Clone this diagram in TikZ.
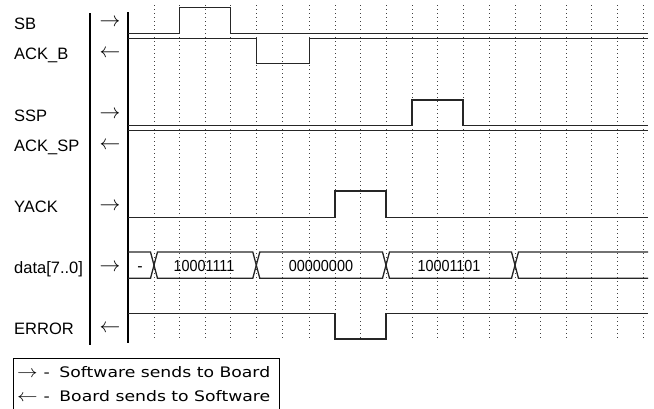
\documentclass[tikz,border=0pt]{standalone}
\usepackage{fontspec}
\setmainfont{Liberation Sans}
\newfontfamily\legendfont{DejaVu Sans}
\usepackage{graphicx}
\begin{document}
\begin{tikzpicture}[x=1pt,y=-1pt,line join=miter,
  gridline/.style={black!75,line width=0.9pt,dash pattern=on 1pt off 3pt},
  wave/.style={black!85,line width=1.3pt},
  frame/.style={black,line width=1.2pt},
  signame/.style={anchor=base west,inner sep=0pt,font=\fontsize{16.5}{16.5}\selectfont},
  dirmark/.style={anchor=center,inner sep=0pt,font=\fontsize{21}{21}\selectfont},
  busval/.style={anchor=base,inner sep=0pt,font=\fontsize{16}{16}\selectfont},
  legendline/.style={anchor=base west,inner sep=0pt,font=\legendfont\fontsize{14.5}{14.5}\selectfont}]
\useasboundingbox (0,0) rectangle (654,408);

% time grid
\foreach \t in {154,179.5,205,230.7,256.3,282,309.5,335,360.7,386,412,437.3,463,489.5,515,540.7,566,591.7,617.3,643}
  \draw[gridline] (\t,5) -- (\t,339);

% separators between names, directions and waveforms
\draw[frame] (90,13) -- (90,345);
\draw[frame] (128,12) -- (128,343);

% signal names
\node[signame] (nSB)    at (14,29.0)  {SB};
\node[signame] (nACKB)  at (14,59.7)  {ACK\_B};
\node[signame] (nSSP)   at (14,121.2) {SSP};
\node[signame] (nACKSP) at (14,151.7) {ACK\_SP};
\node[signame] (nYACK)  at (14,212.7) {YACK};
\node[signame] (nDATA)  at (14,273.7) {data[7..0]};
\node[signame] (nERR)   at (14,334.7) {ERROR};

% directions
\node[dirmark] (dSB)    at (110,22.5)  {$\rightarrow$};
\node[dirmark] (dACKB)  at (110,53.2)  {$\leftarrow$};
\node[dirmark] (dSSP)   at (110,114.7) {$\rightarrow$};
\node[dirmark] (dACKSP) at (110,145.2) {$\leftarrow$};
\node[dirmark] (dYACK)  at (110,206.2) {$\rightarrow$};
\node[dirmark] (dDATA)  at (110,267.2) {$\rightarrow$};
\node[dirmark] (dERR)   at (110,328.2) {$\leftarrow$};

% waveforms
\draw[wave] (128,33.3) -- (179.5,33.3) -- (179.5,7.7) -- (230.7,7.7) -- (230.7,33.3) -- (648,33.3);
\draw[wave] (128,38.7) -- (256.3,38.7) -- (256.3,63.7) -- (309.5,63.7) -- (309.5,38.7) -- (648,38.7);
\draw[wave] (128,125.3) -- (412,125.3) -- (412,100) -- (463,100) -- (463,125.3) -- (648,125.3);
\draw[wave] (128,130.7) -- (648,130.7);
\draw[wave] (128,217.3) -- (335,217.3) -- (335,191) -- (386,191) -- (386,217.3) -- (648,217.3);
\draw[wave] (128,313.3) -- (335,313.3) -- (335,339) -- (386,339) -- (386,313.3) -- (648,313.3);

% data bus
\draw[wave] (128,252) -- (150.5,252) -- (157.5,278.3) -- (252.8,278.3) -- (259.8,252)
  -- (382.5,252) -- (389.5,278.3) -- (511.5,278.3) -- (518.5,252) -- (648,252);
\draw[wave] (128,278.3) -- (150.5,278.3) -- (157.5,252) -- (252.8,252) -- (259.8,278.3)
  -- (382.5,278.3) -- (389.5,252) -- (511.5,252) -- (518.5,278.3) -- (648,278.3);
\node[busval] (v0) at (140,271.5) {-};
\node[busval] (v1) at (204,271.5) {\scalebox{0.9}[1]{10001111}};
\node[busval] (v2) at (321,271.5) {\scalebox{0.9}[1]{00000000}};
\node[busval] (v3) at (449,271.5) {\scalebox{0.9}[1]{10001101}};

% legend
\draw[black,line width=1pt] (13,412) -- (13,358) -- (279,358) -- (279,412);
\node[legendline] (l1) at (17,377) {\resizebox{253pt}{\height}{{\fontsize{19}{19}\selectfont$\rightarrow$}\hspace{5pt}-\hspace{8pt}Software sends to Board}};
\node[legendline] (l2) at (17,401) {\resizebox{253pt}{\height}{{\fontsize{19}{19}\selectfont$\leftarrow$}\hspace{5pt}-\hspace{8pt}Board sends to Software}};
\end{tikzpicture}
\end{document}
